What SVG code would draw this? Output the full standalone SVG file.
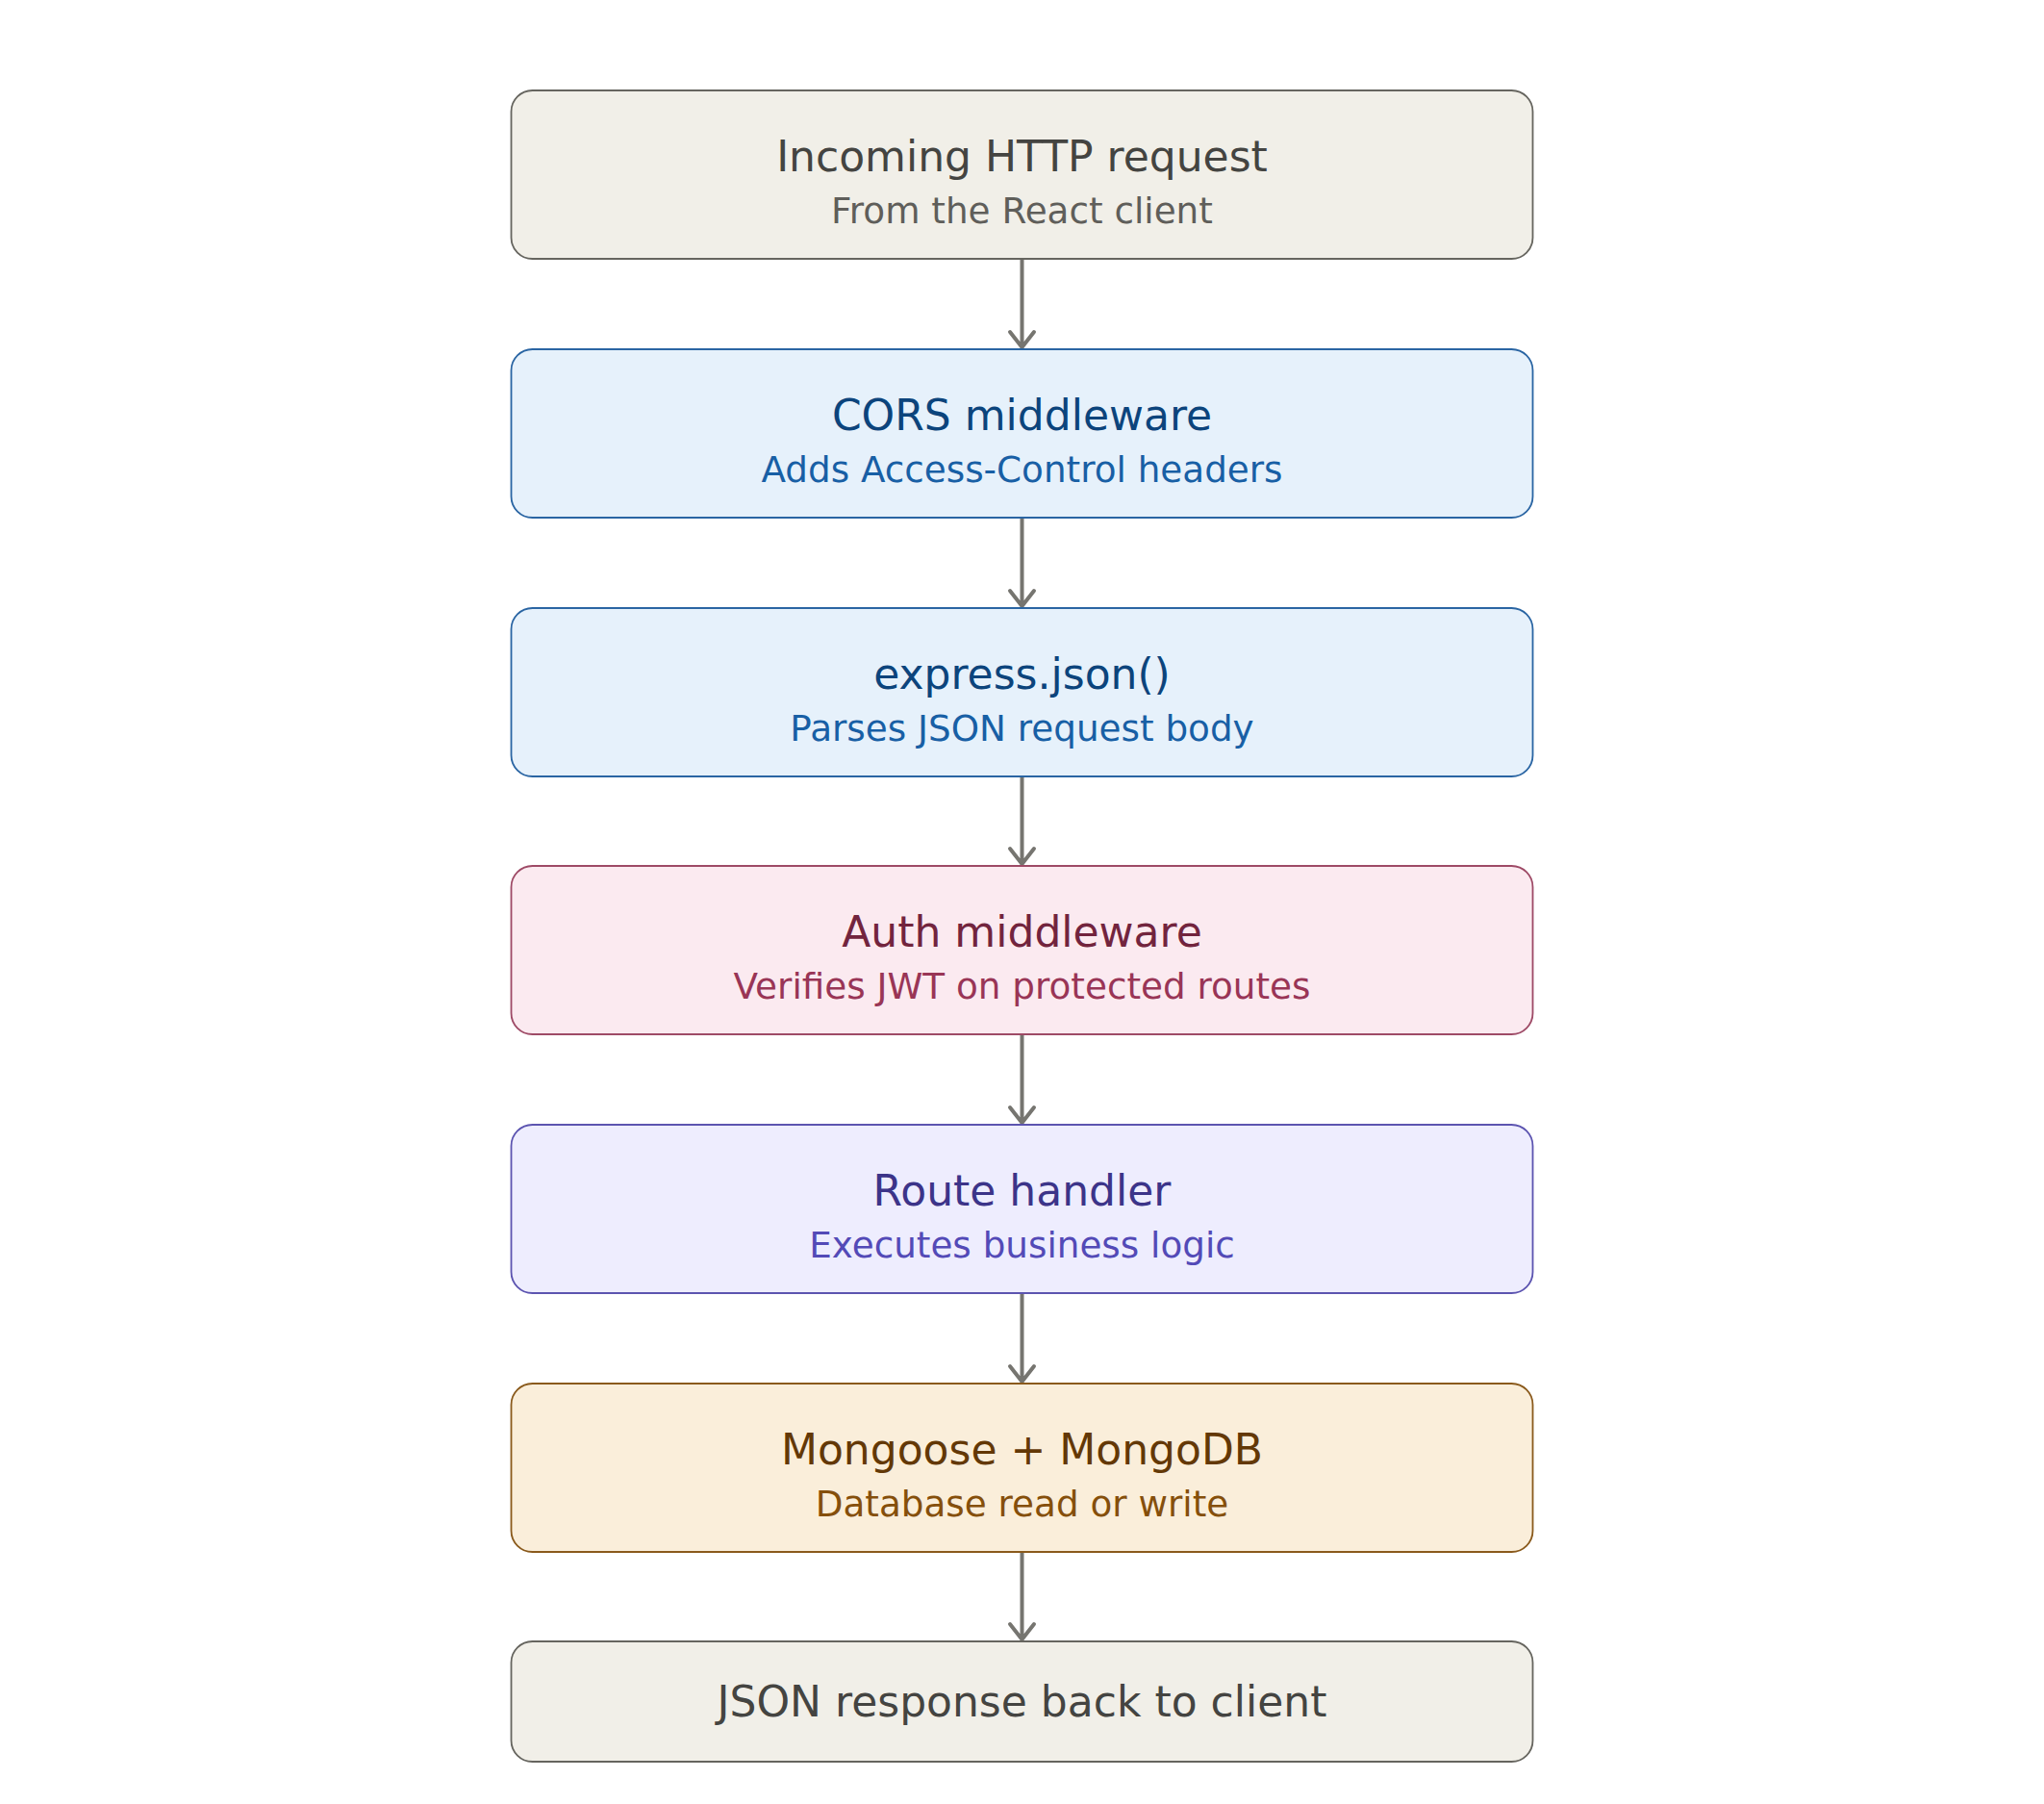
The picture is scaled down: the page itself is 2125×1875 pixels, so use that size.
<svg xmlns="http://www.w3.org/2000/svg" width="2125" height="1875" viewBox="0 0 2125 1875">
<defs>
<style>
text{font-family:"DejaVu Sans","Noto Sans",sans-serif;text-anchor:middle}
.t{font-size:44px}
.s{font-size:37.3px}
.box{stroke-width:1.8}
.gray .box{fill:#F1EFE8;stroke:#66655F}
.gray .t{fill:#444441}.gray .s{fill:#5F5E5A}
.blue .box{fill:#E6F1FB;stroke:#2A65A3}
.blue .t{fill:#0C447C}.blue .s{fill:#185FA5}
.pink .box{fill:#FBEAF0;stroke:#9E4A66}
.pink .t{fill:#72243E}.pink .s{fill:#993556}
.purple .box{fill:#EEEDFE;stroke:#5C54B0}
.purple .t{fill:#3C3489}.purple .s{fill:#534AB7}
.amber .box{fill:#FAEEDA;stroke:#8A5A1C}
.amber .t{fill:#633806}.amber .s{fill:#854F0B}
.edge{stroke:#767570;stroke-width:4;fill:none;stroke-linecap:round;stroke-linejoin:round}
</style>
</defs>
<rect width="2125" height="1875" fill="#ffffff"/>
<g id="connectors">
<path class="edge" d="M1062.5 269V361M1050 345L1062.5 361L1075 345"/>
<path class="edge" d="M1062.5 538V630M1050 614L1062.5 630L1075 614"/>
<path class="edge" d="M1062.5 807V898M1050 882L1062.5 898L1075 882"/>
<path class="edge" d="M1062.5 1075V1167M1050 1151L1062.5 1167L1075 1151"/>
<path class="edge" d="M1062.5 1344V1436M1050 1420L1062.5 1436L1075 1420"/>
<path class="edge" d="M1062.5 1613V1704M1050 1688L1062.5 1704L1075 1688"/>
</g>
<g id="n1" class="gray">
<rect class="box" x="531.5" y="94" width="1062" height="175" rx="22"/>
<text class="t" x="1062.5" y="178">Incoming HTTP request</text>
<text class="s" x="1062.5" y="232">From the React client</text>
</g>
<g id="n2" class="blue">
<rect class="box" x="531.5" y="363" width="1062" height="175" rx="22"/>
<text class="t" x="1062.5" y="447">CORS middleware</text>
<text class="s" x="1062.5" y="501">Adds Access-Control headers</text>
</g>
<g id="n3" class="blue">
<rect class="box" x="531.5" y="632" width="1062" height="175" rx="22"/>
<text class="t" x="1062.5" y="716">express.json()</text>
<text class="s" x="1062.5" y="770">Parses JSON request body</text>
</g>
<g id="n4" class="pink">
<rect class="box" x="531.5" y="900" width="1062" height="175" rx="22"/>
<text class="t" x="1062.5" y="984">Auth middleware</text>
<text class="s" x="1062.5" y="1038">Verifies JWT on protected routes</text>
</g>
<g id="n5" class="purple">
<rect class="box" x="531.5" y="1169" width="1062" height="175" rx="22"/>
<text class="t" x="1062.5" y="1253">Route handler</text>
<text class="s" x="1062.5" y="1307">Executes business logic</text>
</g>
<g id="n6" class="amber">
<rect class="box" x="531.5" y="1438" width="1062" height="175" rx="22"/>
<text class="t" x="1062.5" y="1522">Mongoose + MongoDB</text>
<text class="s" x="1062.5" y="1576">Database read or write</text>
</g>
<g id="n7" class="gray">
<rect class="box" x="531.5" y="1706" width="1062" height="125" rx="22"/>
<text class="t" x="1062.5" y="1784">JSON response back to client</text>
</g>
</svg>
